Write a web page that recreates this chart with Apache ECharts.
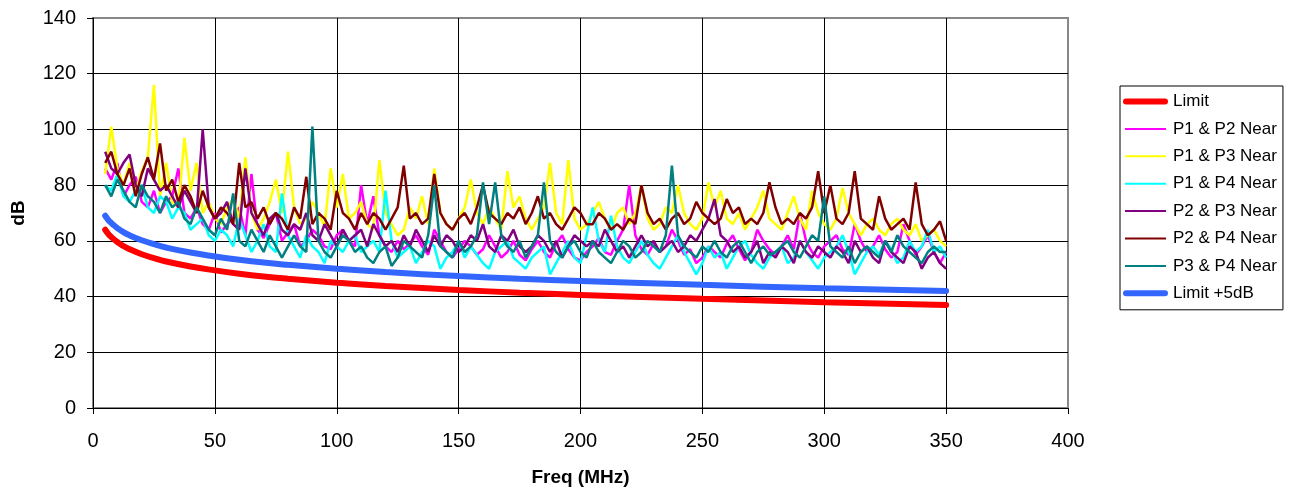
<!DOCTYPE html>
<html>
<head>
<meta charset="utf-8">
<script src="https://cdn.jsdelivr.net/npm/echarts@6/dist/echarts.min.js"></script>
<style>
html,body{margin:0;padding:0;background:#fff;}
#chart{width:1295px;height:492px;}
</style>
</head>
<body>
<div id="chart"></div>
<script>
// Frequencies (MHz) for the measured traces
const freq = [5,7.5,10,12.5,15,17.5,20,22.5,25,27.5,30,32.5,35,37.5,40,42.5,45,47.5,50,52.5,55,57.5,60,62.5,65,67.5,70,72.5,75,77.5,80,82.5,85,87.5,90,92.5,95,97.5,100,102.5,105,107.5,110,112.5,115,117.5,120,122.5,125,127.5,130,132.5,135,137.5,140,142.5,145,147.5,150,152.5,155,157.5,160,162.5,165,167.5,170,172.5,175,177.5,180,182.5,185,187.5,190,192.5,195,197.5,200,202.5,205,207.5,210,212.5,215,217.5,220,222.5,225,227.5,230,232.5,235,237.5,240,242.5,245,247.5,250,252.5,255,257.5,260,262.5,265,267.5,270,272.5,275,277.5,280,282.5,285,287.5,290,292.5,295,297.5,300,302.5,305,307.5,310,312.5,315,317.5,320,322.5,325,327.5,330,332.5,335,337.5,340,342.5,345,347.5,350];

const p1p2 = [86,82,88,76,80,83,74,72,78,70, 74,76,86,70,68,72,66,64,70,63, 66,68,72,62,84,64,61,66,70,60, 63,66,58,60,64,62,58,57,62,64, 60,58,80,66,76,62,58,56,60,57, 59,62,58,55,64,60,56,54,57,60, 58,55,57,62,58,54,56,60,55,53, 57,60,56,54,59,62,57,54,53,56, 58,61,56,55,60,64,80,62,57,55, 59,56,58,64,60,55,57,52,54,58, 56,54,59,62,57,53,56,64,60,57, 55,58,62,57,70,60,56,54,58,60, 62,57,55,66,60,56,58,62,57,54, 56,66,60,55,58,62,56,52,56];

const p1p3 = [84,101,86,80,88,78,85,90,116,76, 88,74,72,97,78,88,70,74,68,66, 72,75,68,90,70,64,68,74,82,70, 92,72,66,68,74,70,65,86,72,84, 68,70,74,66,64,89,70,66,62,64, 72,68,76,66,86,70,66,64,68,72, 82,70,66,72,68,64,85,72,76,68, 64,68,72,88,70,66,89,68,64,66, 70,74,68,64,70,72,66,70,80,68, 64,66,72,70,80,70,66,64,68,81, 72,78,68,66,70,64,68,72,78,68, 66,64,70,76,68,64,78,70,66,64, 68,79,70,66,62,66,68,64,62,66, 68,64,62,66,60,62,64,60,58];

const p1p4 = [80,78,84,76,74,78,80,72,70,76, 74,68,72,70,64,66,68,62,60,64, 62,58,68,62,56,60,66,58,56,77, 62,58,54,62,58,56,52,60,58,56, 60,62,56,58,60,56,78,60,54,56, 58,52,56,60,58,50,54,56,60,54, 58,55,52,50,56,58,60,54,52,50, 54,56,58,48,52,56,60,54,52,62, 72,60,56,69,58,54,52,56,60,55, 52,50,54,58,62,56,52,48,52,58, 54,56,50,54,58,60,55,52,50,54, 56,58,52,54,60,56,53,50,54,56, 58,62,56,48,52,56,58,55,60,57, 52,54,60,56,58,64,56,58,54];

const p2p3 = [92,86,84,88,91,80,76,86,82,78, 80,76,72,78,74,70,100,72,68,70, 74,66,64,86,70,66,62,68,70,64, 62,66,64,70,62,60,66,62,58,64, 60,62,64,58,66,62,58,60,56,62, 58,64,60,56,62,58,62,60,56,58, 62,60,66,58,56,62,60,64,58,56, 58,62,60,56,60,54,58,62,60,58, 60,58,64,60,56,58,54,58,62,58, 60,56,58,60,56,58,62,60,64,68, 75,62,60,56,58,54,56,60,52,56, 54,58,56,52,60,56,54,58,56,54, 58,56,52,60,56,58,54,52,60,56, 54,52,58,56,50,54,56,52,50];

const p2p4 = [88,92,84,80,86,76,84,90,82,95, 78,82,74,80,76,70,78,72,68,72, 70,66,88,72,74,68,72,66,70,68, 64,72,68,83,66,70,68,64,78,70, 68,64,70,66,70,68,64,68,72,87, 68,70,66,68,84,70,66,64,68,70, 66,72,80,70,68,66,70,68,72,66, 70,76,68,70,66,64,68,72,70,66, 66,70,68,64,66,64,68,66,80,70, 66,68,64,68,70,66,68,74,70,68, 66,68,75,70,72,66,68,66,70,81, 72,66,68,66,70,68,72,85,70,80, 68,66,70,85,68,66,64,76,68,64, 66,68,64,81,66,62,64,67,60];

const p3p4 = [80,76,82,78,74,72,80,76,74,70, 76,72,74,68,66,72,68,64,62,68, 64,77,60,58,64,60,56,62,58,54, 58,62,58,56,101,60,56,54,58,62, 60,56,58,54,52,56,58,51,54,60, 58,56,54,62,80,58,56,54,60,56, 58,62,81,66,81,62,58,56,60,54, 58,62,81,60,56,54,58,60,56,54, 60,56,54,52,56,60,58,54,56,60, 58,56,62,87,62,58,56,54,58,56, 60,56,54,58,60,56,52,56,58,55, 56,58,60,56,54,58,62,60,76,58, 56,54,58,52,56,58,56,54,60,56, 62,58,56,54,52,56,58,56,56];

// Limit curves
const limitFreq = [5,6,7,8,10,12,15,20,25,30,40,50,60,70,80,100,120,150,175,200,250,300,350];
const limitVals = [64,62.8,61.8,61,59.6,58.4,57,55.2,53.8,52.6,50.8,49.4,48.2,47.2,46.4,45,43.8,42.4,41.4,40.6,39.2,38,37];
const limit5Vals = [69,67.8,66.8,66,64.6,63.4,62,60.2,58.8,57.6,55.8,54.4,53.2,52.2,51.4,50,48.8,47.4,46.4,45.6,44.2,43,42];

const xTicks = [0,50,100,150,200,250,300,350,400];
const yTicks = [0,20,40,60,80,100,120,140];

function pairs(xs, ys){ return xs.map((x,i)=>[x, ys[i]]); }

const traces = [
  {name:'P1 & P2 Near', vals:p1p2, color:'#FF00FF'},
  {name:'P1 & P3 Near', vals:p1p3, color:'#FFFF00'},
  {name:'P1 & P4 Near', vals:p1p4, color:'#00FFFF'},
  {name:'P2 & P3 Near', vals:p2p3, color:'#800080'},
  {name:'P2 & P4 Near', vals:p2p4, color:'#800000'},
  {name:'P3 & P4 Near', vals:p3p4, color:'#008080'}
];

const series = [];
series.push({name:'Limit', type:'line', data:pairs(limitFreq, limitVals), symbol:'none', smooth:true,
  lineStyle:{color:'#FF0000', width:6, cap:'round'}, itemStyle:{color:'#FF0000'}});
traces.forEach(t=>{
  series.push({name:t.name, type:'line', data:pairs(freq, t.vals), symbol:'none',
    lineStyle:{color:t.color, width:2.5}, itemStyle:{color:t.color}});
});
series.push({name:'Limit +5dB', type:'line', data:pairs(limitFreq, limit5Vals), symbol:'none', smooth:true,
  lineStyle:{color:'#3366FF', width:6, cap:'round'}, itemStyle:{color:'#3366FF'}});

const thickIcon = 'path://M0,0L0,0M45,14L45,14M3,4H42A3,3,0,0,1,42,10H3A3,3,0,0,1,3,4Z';
const thinIcon = 'path://M0,0L0,0M45,14L45,14M2,6H43V8H2Z';
const legendData = [{name:'Limit', icon:thickIcon}]
  .concat(traces.map(t=>({name:t.name, icon:thinIcon})))
  .concat([{name:'Limit +5dB', icon:thickIcon}]);

const font = '"Liberation Sans", Arial, sans-serif';
const chart = echarts.init(document.getElementById('chart'), null, {renderer:'canvas'});
chart.setOption({
  animation:false,
  backgroundColor:'#fff',
  textStyle:{fontFamily:font},
  grid:{left:93, right:227, top:18, bottom:83, show:true, borderColor:'#888', borderWidth:2, backgroundColor:'transparent'},
  legend:{
    orient:'vertical', left:1120, top:86,
    padding:[7,6,8,3], itemGap:10.4, itemWidth:45, itemHeight:14,
    borderColor:'#000', borderWidth:1, backgroundColor:'#fff',
    textStyle:{fontFamily:font, fontSize:17, color:'#000', lineHeight:17},
    data:legendData
  },
  xAxis:{
    type:'value', min:0, max:400, interval:50,
    name:'Freq (MHz)', nameLocation:'middle', nameGap:60,
    nameTextStyle:{fontFamily:font, fontSize:19, fontWeight:'bold', color:'#000'},
    axisLine:{show:true, onZero:false, lineStyle:{color:'#000', width:1}},
    axisTick:{show:true, length:6, lineStyle:{color:'#000'}},
    axisLabel:{fontFamily:font, fontSize:20, color:'#000', margin:23,
      formatter:v=> xTicks.includes(v) ? String(v) : ''},
    splitLine:{show:true, showMaxLine:false, lineStyle:{color:'#000', width:1}}
  },
  yAxis:{
    type:'value', min:0, max:140, interval:20,
    name:'dB', nameLocation:'middle', nameGap:65,
    nameTextStyle:{fontFamily:font, fontSize:19, fontWeight:'bold', color:'#000'},
    axisLine:{show:true, onZero:false, lineStyle:{color:'#000', width:1}},
    axisTick:{show:true, length:6, lineStyle:{color:'#000'}},
    axisLabel:{fontFamily:font, fontSize:20, color:'#000', margin:17,
      formatter:v=> yTicks.includes(v) ? String(v) : ''},
    splitLine:{show:true, showMaxLine:false, lineStyle:{color:'#000', width:1}}
  },
  series:series
});
</script>
</body>
</html>
